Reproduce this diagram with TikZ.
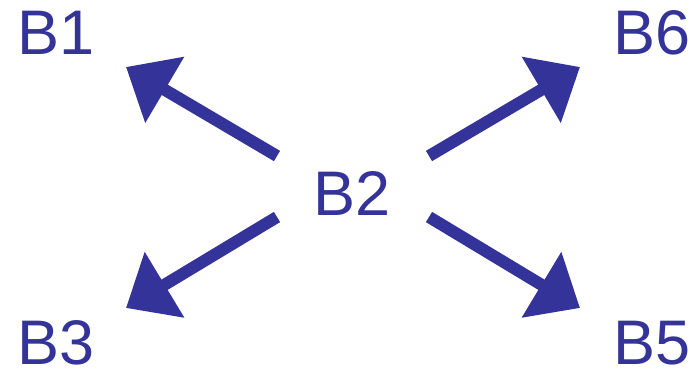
\documentclass[tikz,border=0pt]{standalone}
\usepackage{fontspec}
\setmainfont{Liberation Sans}
\usetikzlibrary{arrows.meta}
\definecolor{dblue}{RGB}{51,51,153}
\tikzset{
  lbl/.style={anchor=base west,inner sep=0pt,outer sep=0pt,text=dblue,font=\fontsize{63}{63}\selectfont},
  bigarrow/.style={draw=dblue,line width=12pt,-{Triangle[length=45pt,width=74pt]}}
}
\begin{document}
\begin{tikzpicture}[x=1pt,y=-1pt]
\useasboundingbox (0,0) rectangle (691,369);
\node[lbl] (b1) at (17.4,55) {B1};
\node[lbl] (b6) at (613.4,55) {B6};
\node[lbl] (b2) at (313.4,215) {B2};
\node[lbl] (b3) at (17.4,364.5) {B3};
\node[lbl] (b5) at (613.4,364.5) {B5};
\coordinate (tl) at (277,156);
\coordinate (tr) at (429,156);
\coordinate (bl) at (277,217);
\coordinate (br) at (429,217);
\coordinate (p1) at (126,67);
\coordinate (p6) at (580,67);
\coordinate (p3) at (126,308);
\coordinate (p5) at (580,308);
\draw[bigarrow] (tl) -- (p1);
\draw[bigarrow] (tr) -- (p6);
\draw[bigarrow] (bl) -- (p3);
\draw[bigarrow] (br) -- (p5);
\end{tikzpicture}
\end{document}
